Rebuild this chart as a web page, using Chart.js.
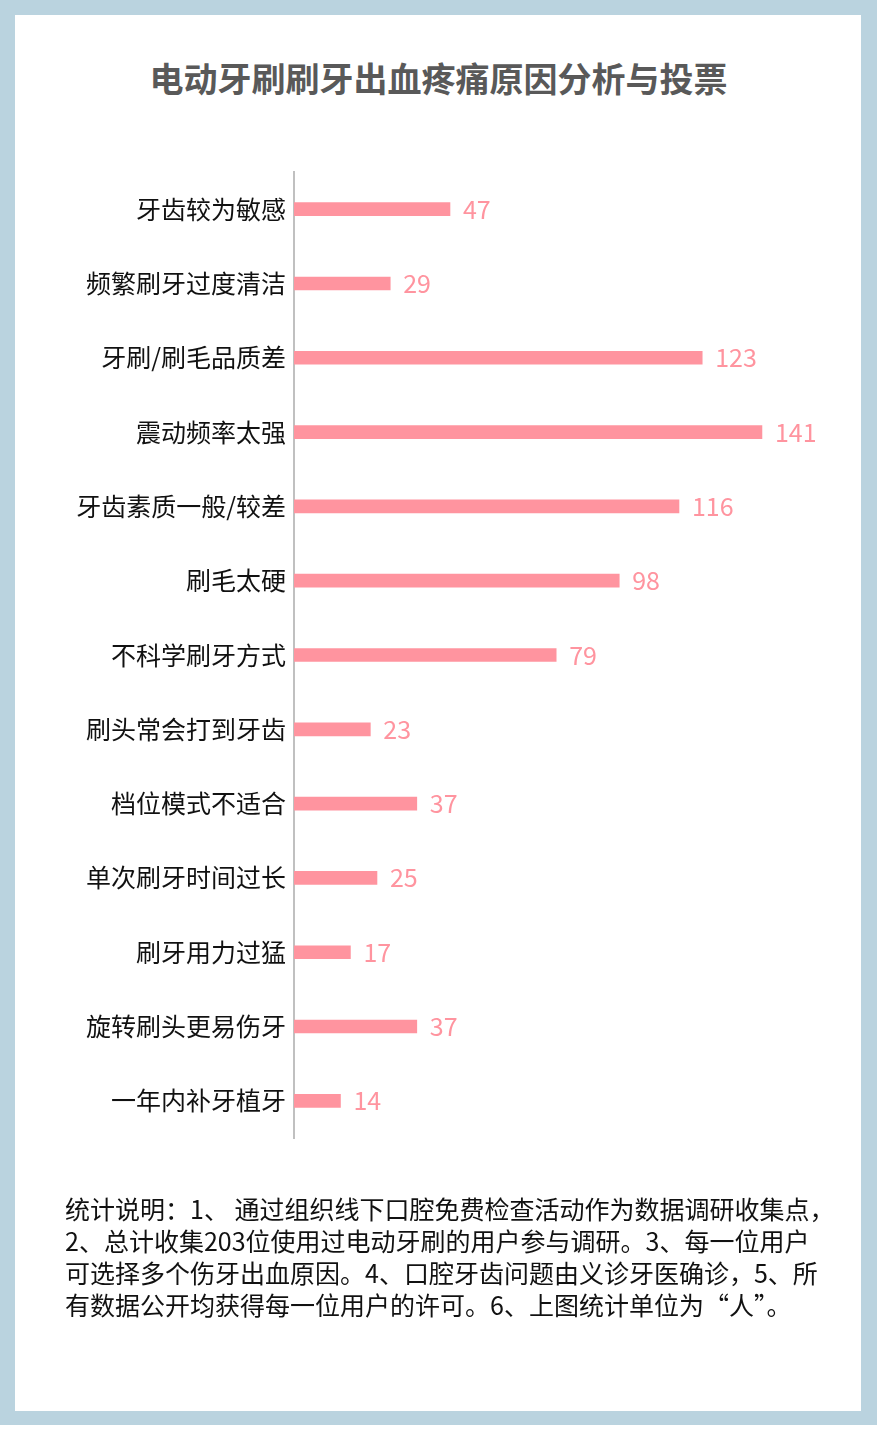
<!DOCTYPE html>
<html>
<head>
<meta charset="utf-8">
<script src="https://cdn.jsdelivr.net/npm/chart.js@4/dist/chart.umd.min.js"></script>
<style>
  html, body { margin: 0; padding: 0; background: #ffffff; }
  body { width: 877px; height: 1439px; position: relative; overflow: hidden; font-family: "Noto Sans CJK SC", "Noto Sans", sans-serif; }
  #frame { position: absolute; left: 0; top: 0; width: 877px; height: 1425px; background: #bad3df; }
  #panel { position: absolute; left: 15px; top: 15px; width: 846px; height: 1396px; background: #ffffff; }
  #title { position: absolute; left: 0; top: 56px; width: 877px; text-align: center; font-size: 34px; font-weight: bold; color: #595959; line-height: 44px; }
  #chartwrap { position: absolute; left: 0; top: 0; width: 877px; height: 1439px; }
  #note { position: absolute; left: 65px; top: 1192px; font-size: 25px; line-height: 32px; color: #111; white-space: nowrap; }
</style>
</head>
<body>
<div id="frame"></div>
<div id="panel"></div>
<div id="title"></div>
<div id="chartwrap"><canvas id="c" width="877" height="1439"></canvas></div>
<div id="note"></div>
<script>
const titleText = "电动牙刷刷牙出血疼痛原因分析与投票";
const categories = ["牙齿较为敏感", "频繁刷牙过度清洁", "牙刷/刷毛品质差", "震动频率太强", "牙齿素质一般/较差", "刷毛太硬", "不科学刷牙方式", "刷头常会打到牙齿", "档位模式不适合", "单次刷牙时间过长", "刷牙用力过猛", "旋转刷头更易伤牙", "一年内补牙植牙"];
const votes = [47, 29, 123, 141, 116, 98, 79, 23, 37, 25, 17, 37, 14];
const noteLines = [
  "统计说明：1、 通过组织线下口腔免费检查活动作为数据调研收集点，",
  "2、总计收集203位使用过电动牙刷的用户参与调研。3、每一位用户",
  "可选择多个伤牙出血原因。4、口腔牙齿问题由义诊牙医确诊，5、所",
  "有数据公开均获得每一位用户的许可。6、上图统计单位为“人”。"
];

document.getElementById('title').textContent = titleText;
const note = document.getElementById('note');
noteLines.forEach(l => { const d = document.createElement('div'); d.textContent = l; note.appendChild(d); });

const PINK = '#ff949f';
const valueLabels = {
  id: 'valueLabels',
  afterDatasetsDraw(chart) {
    const ctx = chart.ctx;
    const meta = chart.getDatasetMeta(0);
    ctx.save();
    ctx.font = '25px "Noto Sans CJK SC", "Noto Sans", sans-serif';
    ctx.fillStyle = PINK;
    ctx.textAlign = 'left';
    ctx.textBaseline = 'middle';
    meta.data.forEach((bar, i) => {
      ctx.fillText(String(votes[i]), bar.x + 13, bar.y);
    });
    ctx.restore();
  }
};

new Chart(document.getElementById('c'), {
  type: 'bar',
  data: {
    labels: categories,
    datasets: [{
      data: votes,
      backgroundColor: PINK,
      borderWidth: 0,
      barThickness: 13
    }]
  },
  options: {
    indexAxis: 'y',
    responsive: false,
    animation: false,
    layout: { padding: { left: 0, right: 52, top: 172, bottom: 301 } },
    plugins: { legend: { display: false }, tooltip: { enabled: false }, title: { display: false } },
    scales: {
      x: { display: false, min: 0, max: 160 },
      y: {
        afterFit(scale) { scale.width = 294; },
        grid: { display: false, drawTicks: false },
        border: { display: true, color: '#c0c0c0', width: 2 },
        ticks: {
          padding: 8,
          color: '#111111',
          font: { size: 25, family: '"Noto Sans CJK SC", "Noto Sans", sans-serif' }
        }
      }
    }
  },
  plugins: [valueLabels]
});
</script>
</body>
</html>
